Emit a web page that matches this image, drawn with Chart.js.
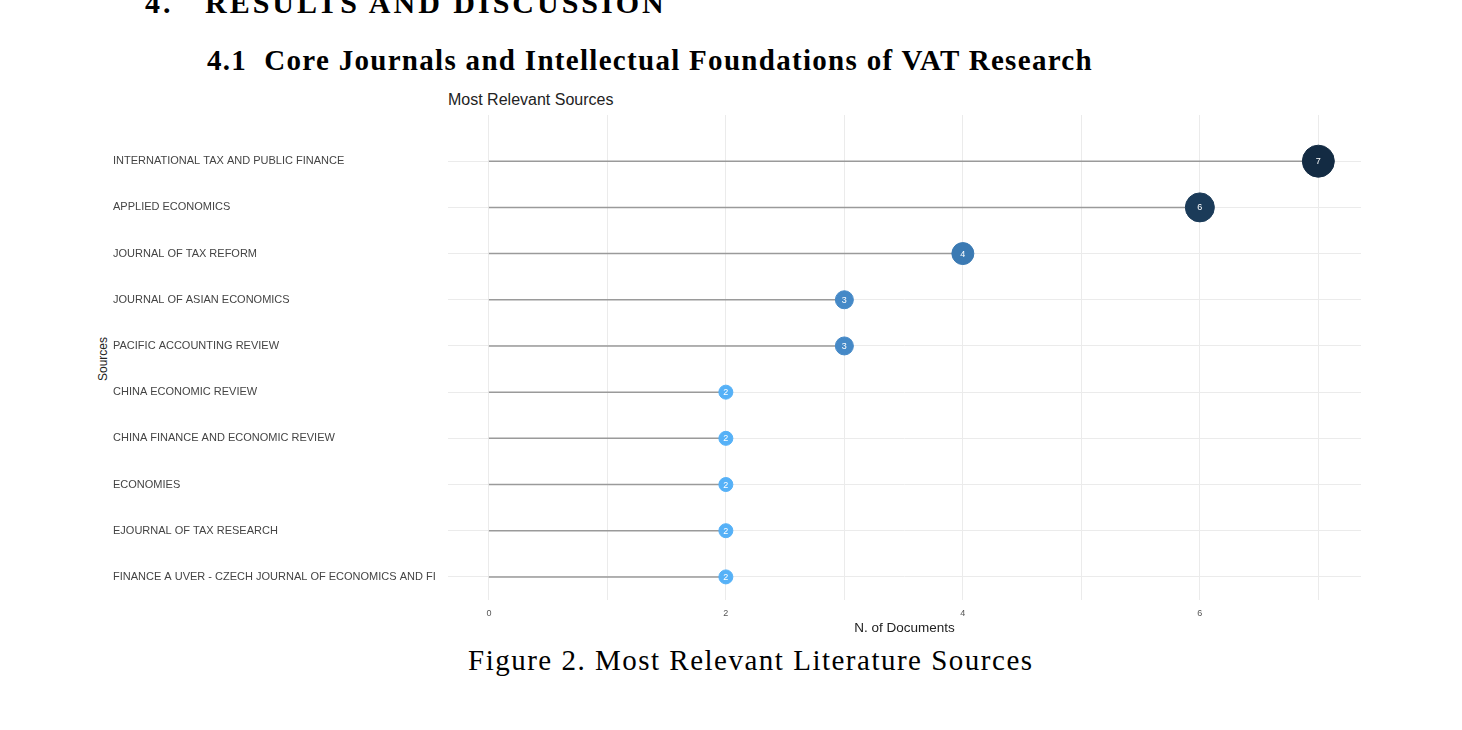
<!DOCTYPE html>
<html>
<head>
<meta charset="utf-8">
<script src="https://cdn.jsdelivr.net/npm/chart.js@4"></script>
<style>
  body { margin: 0; width: 1462px; height: 730px; background: #fff; position: relative; overflow: hidden; }
  .serif { font-family: "Liberation Serif", "DejaVu Serif", serif; position: absolute; color: #000; white-space: nowrap; }
  .sans { font-family: "Liberation Sans", Arial, sans-serif; position: absolute; color: #222; white-space: nowrap; }
  #wrap { position: absolute; left: 113px; top: 98px; width: 1265px; height: 542px; }
</style>
</head>
<body>
<div class="serif" style="left:145px; top:-14px; font-size:30px; font-weight:bold; letter-spacing:3px;">4.&nbsp;&nbsp;&nbsp;RESULTS AND DISCUSSION</div>
<div class="serif" style="left:207px; top:44px; font-size:29px; font-weight:bold; letter-spacing:1.3px;">4.1&nbsp; Core Journals and Intellectual Foundations of VAT Research</div>
<div class="sans" style="left:448px; top:91px; font-size:16px;">Most Relevant Sources</div>
<div class="sans" style="left:80px; top:352px; font-size:12px; transform:rotate(-90deg); transform-origin:center; width:45px; text-align:center;">Sources</div>
<div class="serif" style="left:468px; top:644px; font-size:29px; letter-spacing:1.5px;">Figure 2. Most Relevant Literature Sources</div>
<div id="wrap"><canvas id="c"></canvas></div>
<script>
const sources = [
  'INTERNATIONAL TAX AND PUBLIC FINANCE',
  'APPLIED ECONOMICS',
  'JOURNAL OF TAX REFORM',
  'JOURNAL OF ASIAN ECONOMICS',
  'PACIFIC ACCOUNTING REVIEW',
  'CHINA ECONOMIC REVIEW',
  'CHINA FINANCE AND ECONOMIC REVIEW',
  'ECONOMIES',
  'EJOURNAL OF TAX RESEARCH',
  'FINANCE A UVER - CZECH JOURNAL OF ECONOMICS AND FI'
];
const docs = [7, 6, 4, 3, 3, 2, 2, 2, 2, 2];
const xTicks = [0, 2, 4, 6];

const colorFor = v => ({7: '#132b43', 6: '#1b3b59', 4: '#3b7ab3', 3: '#4589c7', 2: '#56b1f7'})[v];
const radiusFor = v => ({7: 16, 6: 14.5, 4: 11, 3: 9, 2: 7})[v];

const stems = {
  id: 'stems',
  beforeDatasetsDraw(chart) {
    const { ctx, scales: { x, y } } = chart;
    ctx.save();
    ctx.strokeStyle = '#9a9a9a';
    ctx.lineWidth = 1.5;
    docs.forEach((v, i) => {
      ctx.beginPath();
      ctx.moveTo(x.getPixelForValue(0), y.getPixelForValue(i));
      ctx.lineTo(x.getPixelForValue(v), y.getPixelForValue(i));
      ctx.stroke();
    });
    ctx.restore();
  },
  afterDatasetsDraw(chart) {
    const { ctx, scales: { x, y } } = chart;
    ctx.save();
    ctx.fillStyle = '#fff';
    ctx.font = '9px "Liberation Sans", Arial, sans-serif';
    ctx.textAlign = 'center';
    ctx.textBaseline = 'middle';
    docs.forEach((v, i) => ctx.fillText(String(v), x.getPixelForValue(v), y.getPixelForValue(i) + 0.5));
    ctx.restore();
  }
};

new Chart(document.getElementById('c'), {
  type: 'scatter',
  data: {
    datasets: [{
      data: docs.map((v, i) => ({ x: v, y: i })),
      backgroundColor: docs.map(colorFor),
      borderColor: docs.map(colorFor),
      pointRadius: docs.map(radiusFor),
      pointHoverRadius: docs.map(radiusFor)
    }]
  },
  options: {
    responsive: true,
    maintainAspectRatio: false,
    animation: false,
    layout: { padding: { right: 13, top: 0 } },
    plugins: { legend: { display: false }, tooltip: { enabled: false } },
    scales: {
      x: {
        min: -0.345, max: 7.36,
        border: { display: false },
        grid: { color: '#ebebeb', drawTicks: false },
        afterBuildTicks: s => { s.ticks = [0, 1, 2, 3, 4, 5, 6, 7].map(v => ({ value: v })); },
        ticks: {
          color: '#555', font: { size: 9, family: '"Liberation Sans", Arial' }, padding: 8,
          callback: v => xTicks.includes(v) ? String(v) : ''
        },
        title: { display: true, text: 'N. of Documents', color: '#222', font: { size: 13.5, family: '"Liberation Sans", Arial' }, padding: { top: 0 } },
        afterFit: s => { s.height = 40; }
      },
      y: {
        reverse: true,
        min: -1, max: 9.5,
        border: { display: false },
        afterBuildTicks: s => { s.ticks = [-1, 0, 1, 2, 3, 4, 5, 6, 7, 8, 9].map(v => ({ value: v })); },
        grid: { color: c => c.tick && c.tick.value < 0 ? 'rgba(0,0,0,0)' : '#ebebeb', drawTicks: false },
        ticks: {
          crossAlign: 'far',
          color: '#444', font: { size: 11, family: '"Liberation Sans", Arial' },
          callback: v => v >= 0 ? sources[v] : ''
        },
        afterFit: s => { s.width = 335; }
      }
    }
  },
  plugins: [stems]
});
</script>
</body>
</html>
